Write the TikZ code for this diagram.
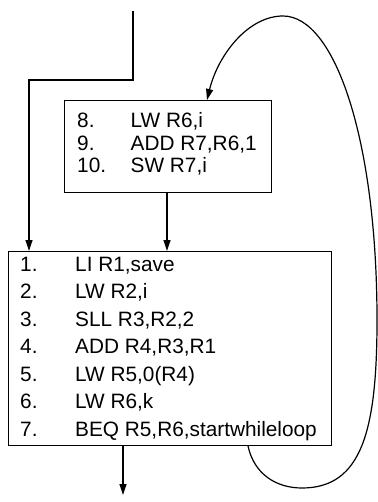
\documentclass[tikz,border=0pt]{standalone}
\usepackage{fontspec}
\setmainfont{Liberation Sans}
\usetikzlibrary{arrows.meta}
\begin{document}
\begin{tikzpicture}[x=1pt,y=-1pt,
  box/.style={draw, line width=0.9pt, inner sep=0pt, anchor=north west},
  conn/.style={line width=1.2pt, -{Triangle[length=11pt,width=7pt]}},
  codeA/.style={inner sep=0pt, anchor=base west, font=\fontsize{20.8}{27.5}\selectfont},
  codeB/.style={inner sep=0pt, anchor=base west, font=\fontsize{20.8}{22.3}\selectfont}]
\useasboundingbox (0,0) rectangle (377,502);
\node[box, minimum width=207pt, minimum height=92pt] (b2) at (64,100) {};
\node[box, minimum width=323pt, minimum height=194pt] (b1) at (8,251) {};
\node[codeB] (t2) at (77,128) {\begin{tabular}[t]{@{}p{53.5pt}@{}l@{}}8.&LW R6,i\\9.&ADD R7,R6,1\\10.&SW R7,i\end{tabular}};
\node[codeA] (t1) at (20,271) {\begin{tabular}[t]{@{}p{55pt}@{}l@{}}1.&LI R1,save\\2.&LW R2,i\\3.&SLL R3,R2,2\\4.&ADD R4,R3,R1\\5.&LW R5,0(R4)\\6.&LW R6,k\\7.&BEQ R5,R6,startwhileloop\end{tabular}};
\coordinate (top) at (133,11);
\coordinate (bend) at (29,80);
\coordinate (mid) at (167,0);
\coordinate (out) at (123,495);
\coordinate (cs) at (248,0);
\coordinate (ce) at (207,0);
\draw[conn] (top) -- (top |- bend) -- (bend) -- (bend |- b1.north);
\draw[conn] (b2.south -| mid) -- (b1.north -| mid);
\draw[conn] (b1.south -| out) -- (out);
\draw[conn] (b1.south -| cs) .. controls (254,474) and (276,488) .. (302,488)
  .. controls (362,488) and (377,430) .. (377,320)
  .. controls (377,140) and (335,16) .. (283,16)
  .. controls (248,16) and (218,55) .. (b2.north -| ce);
\end{tikzpicture}
\end{document}
